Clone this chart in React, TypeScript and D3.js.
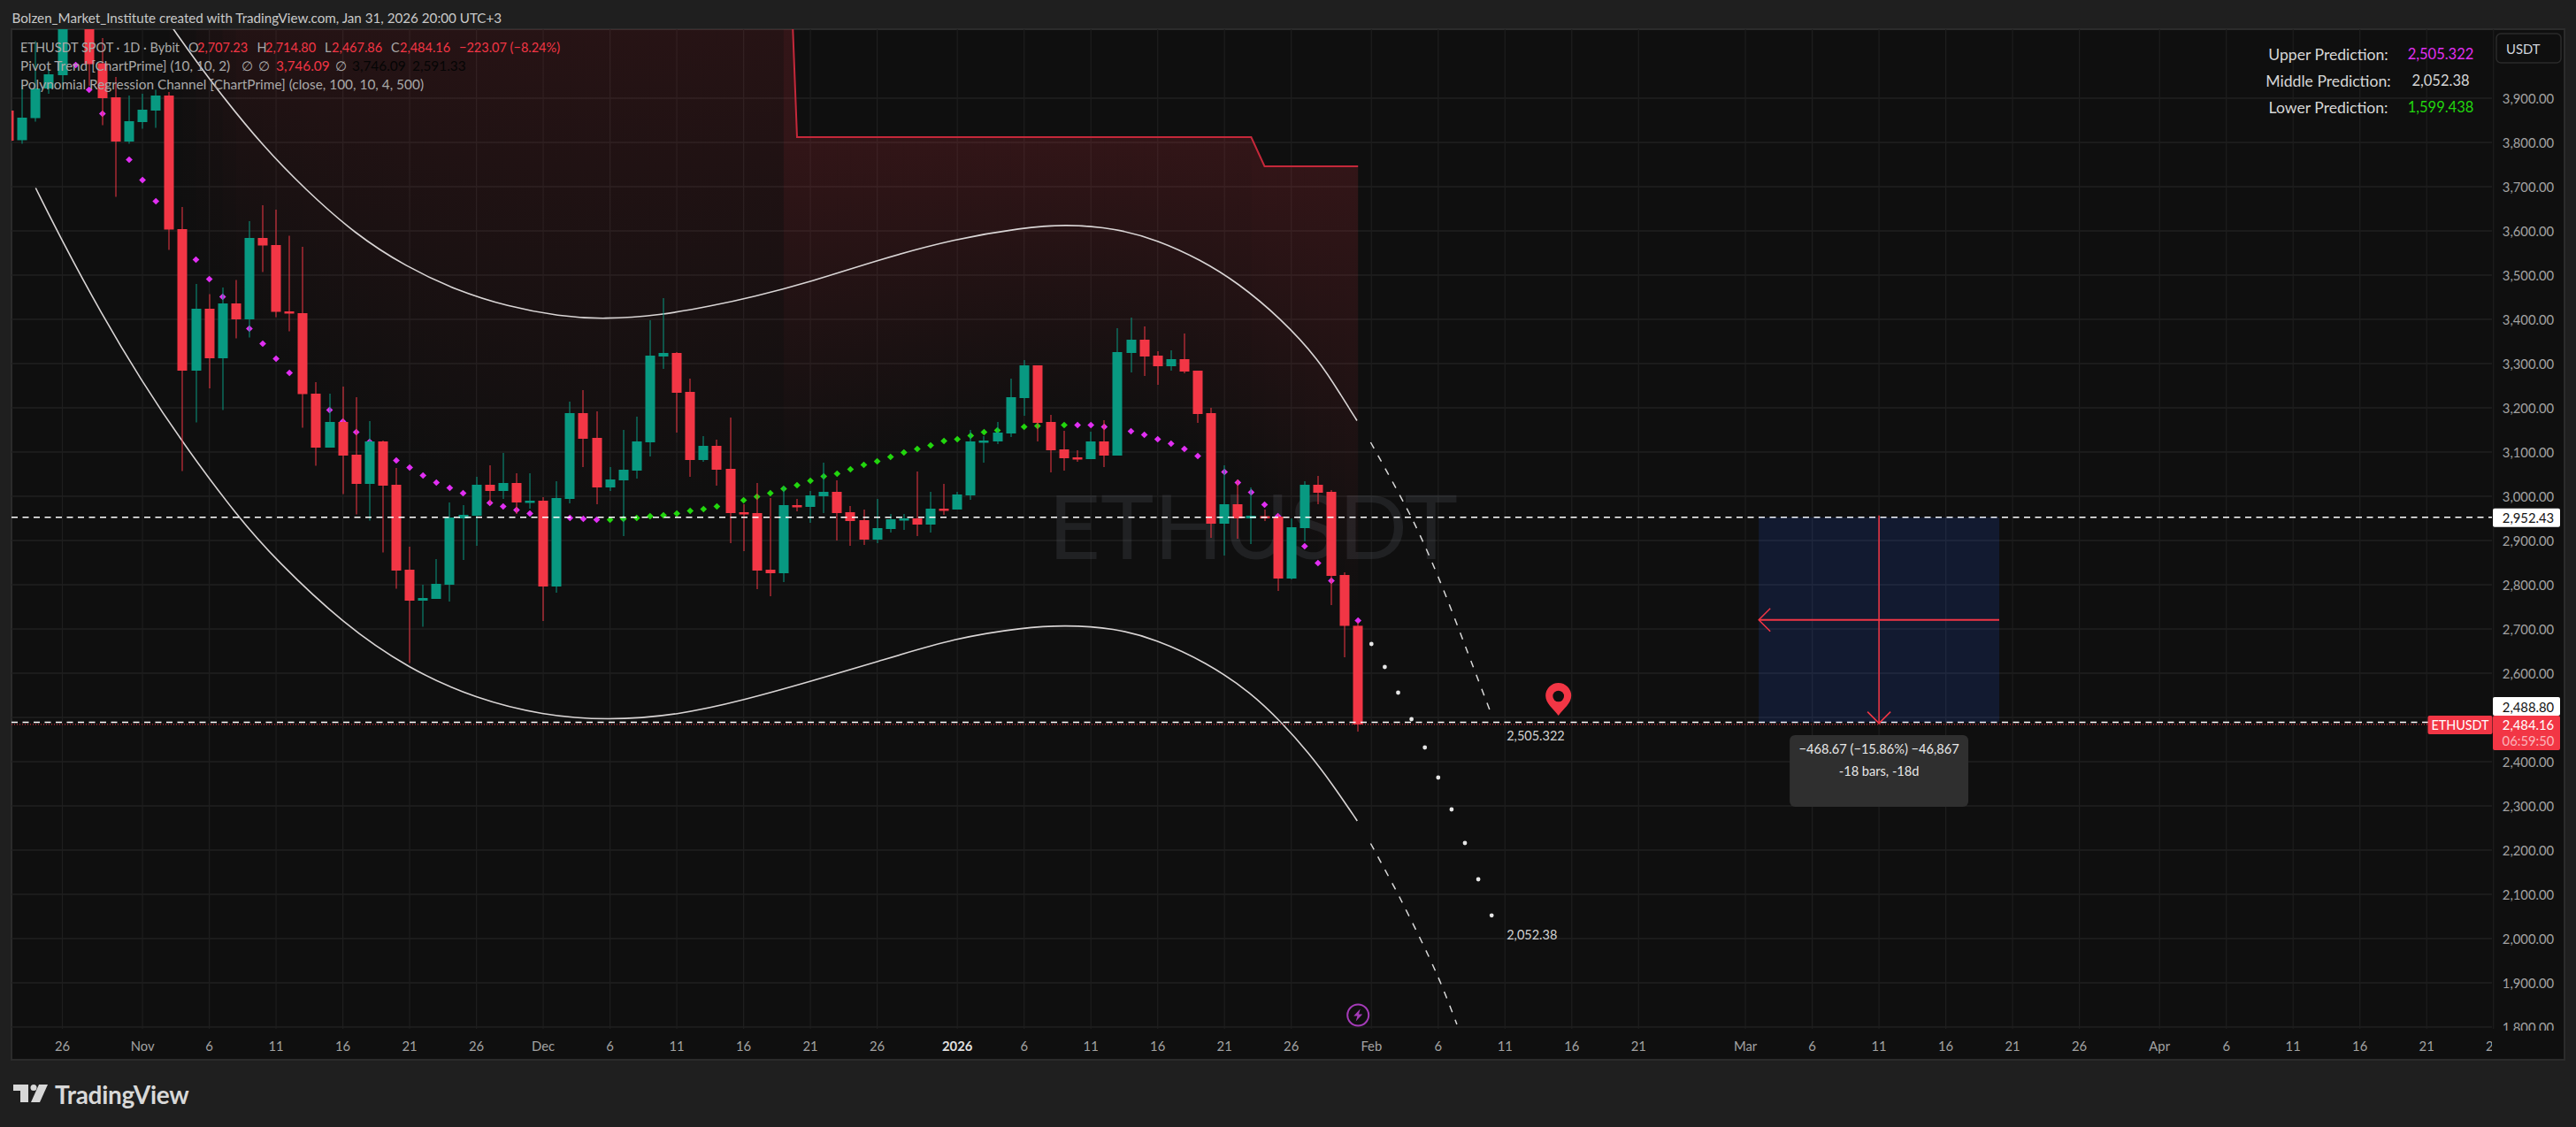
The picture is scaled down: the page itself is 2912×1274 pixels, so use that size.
import React from 'react'
import * as d3 from 'd3'

const WIDTH = 2912
const HEIGHT = 1274
const FONT = 'Lato, "Noto Sans", sans-serif'

const RED = '#f23645'
const GREEN = '#089981'
const MAGENTA = '#e02ff2'
const LIME = '#22d60e'
const GRID = '#212121'
const PANE_BG = '#0f0f0f'
const PAGE_BG = '#1f1f1f'

// Candles, one per day, first one on Oct 22
const FIRST_BAR = '2025-10-22'
const opens = [3872, 3805, 3855, 3922, 3952, 4150, 4115, 3979, 3902, 3802,
  3846, 3872, 3906, 3604, 3284, 3424, 3312, 3436, 3400, 3584, 3568, 3418, 3414, 3232, 3110, 3168, 3094, 3028, 3124, 3026, 2834, 2764, 2768, 2800, 2950, 2956, 3026, 3012, 3030, 2986,
  2990, 2796, 2994, 3188, 3132, 3020, 3036, 3058, 3122, 3316, 3324, 3236, 3082, 3114, 3062, 2964, 2962, 2834, 2826, 2980, 2976, 3000, 3010, 2964, 2946, 2902, 2926, 2948, 2950, 2936, 2972,
  2970, 3002, 3124, 3124, 3142, 3222, 3296, 3168, 3106, 3088, 3084, 3124, 3092, 3324, 3354, 3318, 3294, 3310, 3284, 3188, 2938, 2982, 2950, 2955, 2954, 2814, 2928, 3026, 3010, 2822, 2707.23]
const closes = [3804, 3856, 3922, 3954, 4090, 4120, 3977, 3900, 3802, 3848,
  3874, 3906, 3603, 3284, 3424, 3312, 3436, 3400, 3584, 3567, 3417, 3413, 3231, 3110, 3168, 3092, 3028, 3124, 3024, 2832, 2764, 2770, 2802, 2952, 2958, 3026, 3012, 3030, 2986, 2990,
  2796, 2996, 3188, 3130, 3020, 3038, 3060, 3124, 3318, 3324, 3234, 3082, 3114, 3060, 2962, 2960, 2832, 2826, 2980, 2978, 3002, 3010, 2962, 2944, 2902, 2928, 2948, 2950, 2936, 2972, 2969,
  3004, 3124, 3126, 3144, 3224, 3296, 3166, 3104, 3086, 3086, 3124, 3092, 3326, 3354, 3316, 3294, 3310, 3282, 3186, 2938, 2982, 2950, 2956, 2952, 2814, 2930, 3026, 3008, 2820, 2707, 2484.16]
const highs = [3900, 3929, 4029, 3966, 4150, 4250, 4160, 4036, 3948, 3906,
  3910, 3919, 3914, 3654, 3480, 3457, 3472, 3489, 3622, 3658, 3648, 3589, 3564, 3258, 3232, 3248, 3224, 3170, 3126, 3064, 2886, 2800, 2858, 2986, 2980, 3044, 3070, 3098, 3052, 3052,
  2998, 3034, 3214, 3240, 3192, 3066, 3150, 3180, 3398, 3448, 3326, 3266, 3136, 3128, 3178, 2982, 3030, 2996, 3022, 2994, 3012, 3076, 3036, 2978, 2970, 2994, 2960, 2960, 3056, 3010, 3028,
  3010, 3150, 3136, 3168, 3266, 3308, 3296, 3184, 3148, 3104, 3146, 3172, 3380, 3404, 3384, 3328, 3330, 3368, 3284, 3200, 3070, 3038, 3020, 2970, 2960, 2950, 3034, 3046, 3014, 2828, 2714.8]
const lows = [3800, 3797, 3847, 3910, 3919, 4100, 3928, 3839, 3677, 3797,
  3831, 3833, 3557, 3057, 3167, 3244, 3195, 3357, 3359, 3507, 3405, 3373, 3155, 3069, 3110, 3005, 2959, 2945, 2873, 2791, 2623, 2705, 2768, 2762, 2856, 2888, 2982, 2994, 2960, 2972,
  2718, 2782, 2984, 3066, 2982, 3012, 2910, 3040, 3090, 3288, 3144, 3044, 3078, 3024, 2894, 2876, 2790, 2774, 2806, 2966, 2940, 2962, 2900, 2888, 2890, 2894, 2918, 2924, 2910, 2918, 2958,
  2970, 2992, 3076, 3118, 3134, 3182, 3124, 3054, 3058, 3078, 3084, 3066, 3092, 3280, 3272, 3252, 3284, 3278, 3166, 2906, 2866, 2904, 2892, 2944, 2786, 2812, 2898, 2982, 2754, 2636, 2467.86]

// Pivot Trend dots, first one on Oct 27
const TREND_START = 5
const trendValues = [3975, 3919, 3865, 3812, 3761, 3715, 3667, 3620, 3574, 3535,
  3491, 3451, 3415, 3379, 3345, 3311, 3279, 3250, 3218, 3195, 3169, 3145, 3123, 3097, 3081, 3065, 3047, 3031, 3019, 3007, 2995, 2985, 2977, 2969, 2961,
  2955, 2952, 2951, 2949, 2947, 2947, 2949, 2951, 2955, 2957, 2961, 2967, 2971, 2977, 2984, 2991, 2999, 3007, 3017, 3025, 3035, 3045, 3051, 3061, 3071, 3079, 3089, 3099, 3107, 3115, 3125,
  3129, 3137, 3145, 3149, 3154, 3157, 3159, 3160, 3161, 3161, 3161, 3157, 3152, 3147, 3139, 3129, 3119, 3107, 3091, 3072, 3055, 3031, 3009, 2981, 2955, 2922, 2887, 2849, 2809, 2765, 2719]
const greenFrom = '2025-12-06'
const greenTo = '2026-01-09'

// Resistance level above the trend, and the opacity the zone fades in with
const zoneSteps = [
  { from: '2025-11-03', level: 4590 },
  { from: '2025-12-20', level: 3812 },
  { from: '2026-01-24', level: 3746.09 }
]
const zoneFadeIn = [0.02, 0.04, 0.07, 0.1, 0.13]
const ZONE_ALPHA = 0.155

// Regression channel, x is days after Oct 26
const BASE_DAY = '2025-10-26'
const upperDays = [6.5, 8.33, 11.68, 15.1, 18.14, 21.94, 25.73, 29.54, 33.34, 37.15, 40.56, 44.74, 48.56, 51.63, 56.07, 61.13, 66.83, 71.89, 75.07, 78.87, 82.02, 85.2, 88.04, 91.22, 94.07, 95.83, 96.92]
const upperValues = [4137, 4054, 3915, 3789, 3695, 3592, 3519, 3465, 3429, 3407, 3400, 3409, 3430, 3450, 3485, 3535, 3582, 3607, 3615, 3606, 3579, 3535, 3482, 3402, 3309, 3223, 3171]
const lowerDays = [-2, -0.1, 2.93, 5.9, 8.97, 13.19, 16.03, 21, 25.96, 30.99, 35.95, 40.76, 46.09, 51.03, 55.97, 60.9, 66.99, 71.95, 74.99, 78.78, 81.82, 85.63, 89.04, 91.33, 93.25, 95.11, 96.94]
const lowerValues = [3697, 3582, 3412, 3262, 3122, 2951, 2855, 2712, 2609, 2542, 2505, 2493, 2505, 2539, 2581, 2625, 2681, 2703, 2709, 2702, 2677, 2625, 2555, 2487, 2422, 2348, 2266]

// Predictions drawn past the last bar
const upperDashDays = [97.94, 101.03, 102.94, 105.6, 107]
const upperDashValues = [3122, 2950, 2822, 2616, 2505.322]
const lowerDashDays = [97.94, 100.2, 102.95, 104.4]
const lowerDashValues = [2215, 2088, 1916, 1806]
const middleDays = [98, 99, 100, 101, 102, 103, 104, 105, 106, 107]
const middleValues = [2666, 2614, 2556, 2496, 2432, 2364, 2292, 2216, 2134, 2052.38]

const priceTicks = d3.range(1800, 3901, 100)
const hiddenPriceLabels = [2500]
const timeTicks = [
  '2025-10-26', '2025-11-01', '2025-11-06', '2025-11-11', '2025-11-16', '2025-11-21', '2025-11-26',
  '2025-12-01', '2025-12-06', '2025-12-11', '2025-12-16', '2025-12-21', '2025-12-26',
  '2026-01-01', '2026-01-06', '2026-01-11', '2026-01-16', '2026-01-21', '2026-01-26',
  '2026-02-01', '2026-02-06', '2026-02-11', '2026-02-16', '2026-02-21',
  '2026-03-01', '2026-03-06', '2026-03-11', '2026-03-16', '2026-03-21', '2026-03-26',
  '2026-04-01', '2026-04-06', '2026-04-11', '2026-04-16', '2026-04-21', '2026-04-26'
]

const MEASURE_TOP = 2952.43
const MEASURE_BOTTOM = 2488.8
const LAST_PRICE = 2484.16

const day = (s: string) => new Date(s + 'T00:00:00Z')
const parseDay = (off: number) => new Date(day(BASE_DAY).getTime() + off * 864e5)
const fmt2 = d3.format(',.2f')

const x = d3.scaleUtc().domain([day('2025-10-26'), day('2026-02-01')]).range([70.5, 1550.3])
const y = d3.scaleLinear().domain([3900, 1800]).range([111, 1161])

const barDates = opens.map((_, i) => d3.utcDay.offset(day(FIRST_BAR), i))
const trendDates = trendValues.map((_, i) => barDates[i + TREND_START])

const tickLabel = (s: string) => {
  const d = day(s)
  if (d.getUTCDate() !== 1) return String(d.getUTCDate())
  if (d.getUTCMonth() === 0) return String(d.getUTCFullYear())
  return d3.utcFormat('%b')(d)
}

const levelAt = (d: Date) => {
  let level = NaN
  zoneSteps.forEach(s => { if (d >= day(s.from)) level = s.level })
  return level
}

const channel = d3.line<[number, number]>()
  .x(d => x(parseDay(d[0])))
  .y(d => y(d[1]))
  .curve(d3.curveBasis)
const curve = d3.line<[number, number]>()
  .x(d => x(parseDay(d[0])))
  .y(d => y(d[1]))
  .curve(d3.curveCatmullRom)

const zip = (a: number[], b: number[]) => a.map((v, i) => [v, b[i]] as [number, number])

// zone: one column between each pair of neighbouring bars
const zonePoints = trendDates
  .map((d, i) => ({ date: d, trend: trendValues[i], level: levelAt(d) }))
  .filter(p => !isNaN(p.level))
type ZonePoint = (typeof zonePoints)[number]
const zoneArea = d3.area<ZonePoint>().x(d => x(d.date)).y0(d => y(d.trend)).y1(d => y(d.level))
const resistanceLine = d3.line<ZonePoint>().x(d => x(d.date)).y(d => y(d.level))

const diamond = d3.symbol().type(d3.symbolSquare).size(30)()

const PRICE_X = 2858

function Candles() {
  return (
    <g>
      {barDates.map((d, i) => {
        const up = closes[i] >= opens[i]
        const c = up ? GREEN : RED
        const top = y(Math.max(opens[i], closes[i]))
        const bottom = y(Math.min(opens[i], closes[i]))
        const cx = Math.round(x(d))
        return (
          <g key={i}>
            <line x1={cx} x2={cx} y1={y(highs[i])} y2={y(lows[i])} stroke={c} strokeWidth={1} />
            <rect x={cx - 5.5} width={11} y={top} height={Math.max(bottom - top, 2.5)} fill={c} />
          </g>
        )
      })}
    </g>
  )
}

function Legend() {
  const t = { fontSize: 15.4, fontFamily: FONT }
  const grey = '#a9a9a9'
  const first = { fontSize: 14.5 }
  return (
    <g style={t}>
      <text x={23} y={59} fill={grey} style={first}>ETHUSDT SPOT · 1D · Bybit</text>
      {[['O', '2,707.23', 213, 223], ['H', '2,714.80', 290.5, 300], ['L', '2,467.86', 367, 375], ['C', '2,484.16', 442, 452]].map(r => (
        <g key={r[0] as string} style={first}>
          <text x={r[2]} y={59} fill={grey}>{r[0]}</text>
          <text x={r[3]} y={59} fill={RED}>{r[1]}</text>
        </g>
      ))}
      <text x={519} y={59} fill={RED} style={first}>−223.07 (−8.24%)</text>
      <text x={23} y={80} fill={grey}>Pivot Trend [ChartPrime] (10, 10, 2)</text>
      <text x={273} y={80} fill={grey}>∅</text>
      <text x={292} y={80} fill={grey}>∅</text>
      <text x={312} y={80} fill={RED}>3,746.09</text>
      <text x={379} y={80} fill={grey}>∅</text>
      <text x={398} y={80} fill="#050505">3,746.09</text>
      <text x={466} y={80} fill="#050505">2,591.33</text>
      <text x={23} y={101} fill={grey}>Polynomial Regression Channel [ChartPrime] (close, 100, 10, 4, 500)</text>
    </g>
  )
}

function PredictionTable() {
  const rows = [
    { label: 'Upper Prediction:', value: '2,505.322', color: MAGENTA, cy: 61 },
    { label: 'Middle Prediction:', value: '2,052.38', color: '#d6d6d6', cy: 91 },
    { label: 'Lower Prediction:', value: '1,599.438', color: LIME, cy: 121 }
  ]
  return (
    <g style={{ fontFamily: FONT }} textAnchor="middle" dominantBaseline="central">
      {rows.map(r => (
        <g key={r.label}>
          <text x={2632} y={r.cy} fill="#d6d6d6" style={{ fontSize: 17.6 }}>{r.label}</text>
          <text x={2759} y={r.cy} fill={r.color} style={{ fontSize: 16.5 }}>{r.value}</text>
        </g>
      ))}
    </g>
  )
}

function Measure() {
  const left = x(day('2026-03-02'))
  const right = x(day('2026-03-20'))
  const mid = x(day('2026-03-11'))
  const top = y(MEASURE_TOP)
  const bottom = y(MEASURE_BOTTOM)
  const midY = (top + bottom) / 2
  return (
    <g>
      <rect x={left} y={top} width={right - left} height={bottom - top} fill="#2962ff" fillOpacity={0.14} />
      <g stroke={RED} fill="none">
        <line x1={left} x2={right} y1={midY} y2={midY} strokeWidth={2} />
        <line x1={mid} x2={mid} y1={top - 2} y2={bottom + 2} strokeWidth={1.5} />
        <path d={`M${left + 13},${midY - 13}L${left},${midY}L${left + 13},${midY + 13}`} strokeWidth={1.5} />
        <path d={`M${mid - 13},${bottom - 12}L${mid},${bottom + 1}L${mid + 13},${bottom - 12}`} strokeWidth={1.5} />
      </g>
      <rect x={mid - 101} y={831} width={202} height={81} rx={6} fill="#2f2f2f" />
      <text x={mid} y={846} fill="#e8e8e8" textAnchor="middle" dominantBaseline="central" style={{ fontSize: 14.6, fontFamily: FONT }}>−468.67 (−15.86%) −46,867</text>
      <text x={mid} y={871} fill="#e8e8e8" textAnchor="middle" dominantBaseline="central" style={{ fontSize: 14.6, fontFamily: FONT }}>-18 bars, -18d</text>
    </g>
  )
}

function PriceTags() {
  const box = (value: number, boxTop: number) => (
    <g key={value}>
      <rect x={2818} y={boxTop} width={76} height={21} rx={2} fill="#ffffff" />
      <text x={PRICE_X} y={boxTop + 10.5} fill="#131313" textAnchor="middle" dominantBaseline="central" style={{ fontSize: 14.8, fontFamily: FONT }}>{fmt2(value)}</text>
    </g>
  )
  return (
    <g>
      {box(MEASURE_TOP, y(MEASURE_TOP) - 10)}
      {box(MEASURE_BOTTOM, 788)}
      <rect x={2744.5} y={809} width={73} height={21} rx={2} fill={RED} />
      <text x={2781} y={819.5} fill="#ffffff" textAnchor="middle" dominantBaseline="central" style={{ fontSize: 14.4, fontFamily: FONT }}>ETHUSDT</text>
      <rect x={2818} y={809} width={76} height={39} rx={2} fill={RED} />
      <text x={PRICE_X} y={819} fill="#ffffff" textAnchor="middle" dominantBaseline="central" style={{ fontSize: 14.8, fontFamily: FONT }}>{fmt2(LAST_PRICE)}</text>
      <text x={PRICE_X} y={836.5} fill="#fbb5bb" textAnchor="middle" dominantBaseline="central" style={{ fontSize: 14.8, fontFamily: FONT }}>06:59:50</text>
    </g>
  )
}

export default function App() {
  const paneW = 2817 - 13
  const paneH = 1163 - 33
  return (
    <svg width={WIDTH} height={HEIGHT} style={{ position: 'fixed', left: 0, top: 0, display: 'block' }}>
      <defs>
        <clipPath id="pane"><rect x={13} y={33} width={paneW} height={paneH} /></clipPath>
        <clipPath id="timeClip"><rect x={13} y={1163} width={paneW} height={35} /></clipPath>
        <clipPath id="priceClip"><rect x={2818} y={33} width={80} height={1132} /></clipPath>
        {zonePoints.slice(0, -1).map((p, i) => {
          const next = zonePoints[i + 1]
          const alpha = i < zoneFadeIn.length ? zoneFadeIn[i] : ZONE_ALPHA
          return (
            <linearGradient key={i} id={`zone-${i}`} gradientUnits="userSpaceOnUse" x1={0} x2={0}
              y1={y(Math.min(p.level, next.level))} y2={y(Math.min(p.trend, next.trend))}>
              <stop offset="0" stopColor={RED} stopOpacity={alpha} />
              <stop offset="1" stopColor={RED} stopOpacity={0} />
            </linearGradient>
          )
        })}
      </defs>

      <rect width={WIDTH} height={HEIGHT} fill={PAGE_BG} />
      <rect x={13} y={33} width={2886} height={1165} fill={PANE_BG} stroke="#2b2b2b" strokeWidth={2} />

      <text x={13.5} y={20} fill="#c9c9c9" dominantBaseline="central" style={{ fontSize: 15.2, fontFamily: FONT }}>
        Bolzen_Market_Institute created with TradingView.com, Jan 31, 2026 20:00 UTC+3
      </text>

      {/* grid */}
      <g>
        {priceTicks.map(p => <line key={p} x1={13} x2={2817} y1={y(p)} y2={y(p)} stroke={GRID} strokeWidth={1.5} />)}
        {timeTicks.map(t => <line key={t} x1={x(day(t))} x2={x(day(t))} y1={33} y2={1163} stroke="#1e1e1e" strokeWidth={1.2} />)}
      </g>

      <g clipPath="url(#pane)">
        <text x={1185} y={632} textLength={463} lengthAdjust="spacingAndGlyphs" fill="#787b86" fillOpacity={0.17} style={{ fontSize: 100, fontFamily: FONT, fontWeight: 400 }}>ETHUSDT</text>

        {zonePoints.slice(0, -1).map((p, i) => (
          <path key={i} d={zoneArea([p, zonePoints[i + 1]]) as string} fill={`url(#zone-${i})`} />
        ))}
        <path d={resistanceLine(zonePoints.filter(p => p.date >= day('2025-12-19'))) as string} fill="none" stroke="#c5283a" strokeWidth={2} />

        <path d={channel(zip(upperDays, upperValues)) as string} fill="none" stroke="#d9d5d5" strokeWidth={1.6} />
        <path d={channel(zip(lowerDays, lowerValues)) as string} fill="none" stroke="#d9d5d5" strokeWidth={1.6} />
        <path d={curve(zip(upperDashDays, upperDashValues)) as string} fill="none" stroke="#d9d9d9" strokeWidth={1.5} strokeDasharray="8 9" />
        <path d={curve(zip(lowerDashDays, lowerDashValues)) as string} fill="none" stroke="#d9d9d9" strokeWidth={1.5} strokeDasharray="8 9" />
        {middleDays.map((d, i) => <circle key={d} cx={x(parseDay(d))} cy={y(middleValues[i])} r={2.4} fill="#e6e6e6" />)}

        {trendDates.map((d, i) => {
          const green = d >= day(greenFrom) && d <= day(greenTo)
          return <path key={i} d={diamond as string} transform={`translate(${x(d)},${y(trendValues[i])}) rotate(45)`} fill={green ? LIME : MAGENTA} />
        })}

        <Candles />

        <line x1={13} x2={2817} y1={y(LAST_PRICE)} y2={y(LAST_PRICE)} stroke={RED} strokeWidth={1} strokeDasharray="1 2" />
        <line x1={13} x2={2817} y1={y(MEASURE_TOP)} y2={y(MEASURE_TOP)} stroke="#ffffff" strokeWidth={1.5} strokeDasharray="7 5.5" />
        <line x1={13} x2={2817} y1={y(MEASURE_BOTTOM)} y2={y(MEASURE_BOTTOM)} stroke="#ffffff" strokeWidth={1.5} strokeDasharray="7 5.5" />

        <Measure />

        <text x={x(parseDay(107)) + 17} y={y(2505.322) + 23} fill="#d2d2d2" dominantBaseline="central" style={{ fontSize: 14.5, fontFamily: FONT }}>2,505.322</text>
        <text x={x(parseDay(107)) + 17} y={y(2052.38) + 22} fill="#d2d2d2" dominantBaseline="central" style={{ fontSize: 14.5, fontFamily: FONT }}>2,052.38</text>

        {/* pin */}
        <g transform={`translate(${x(day('2026-02-15'))},809)`}>
          <path d="M0,0C-6,-8 -14.5,-14 -14.5,-22.5A14.5,14.5 0 1 1 14.5,-22.5C14.5,-14 6,-8 0,0Z" fill={RED} />
          <circle cx={0} cy={-22} r={6.3} fill={PANE_BG} />
        </g>

        {/* earnings style marker below the last bar */}
        <g transform={`translate(${x(day('2026-01-31'))},1147.5)`}>
          <circle r={12} fill="none" stroke="#a53bb8" strokeWidth={2} />
          <path d="M2.5,-7L-5,1H-0.8L-2.5,7L5,-1H0.8Z" fill="#a53bb8" />
        </g>

        <Legend />
        <PredictionTable />
      </g>

      {/* price axis */}
      <g clipPath="url(#priceClip)" style={{ fontSize: 14.8, fontFamily: FONT }} fill="#a3a3a3" textAnchor="middle" dominantBaseline="central">
        {priceTicks.filter(p => !hiddenPriceLabels.includes(p)).map(p => <text key={p} x={PRICE_X} y={y(p)}>{fmt2(p)}</text>)}
      </g>
      <rect x={2822} y={38} width={73} height={33} rx={5} fill={PANE_BG} stroke="#2b2b2b" strokeWidth={1.5} />
      <text x={2833} y={54.5} fill="#d1d4dc" dominantBaseline="central" style={{ fontSize: 14.8, fontFamily: FONT }}>USDT</text>
      <PriceTags />

      {/* time axis */}
      <g clipPath="url(#timeClip)" style={{ fontSize: 14.8, fontFamily: FONT }} textAnchor="middle" dominantBaseline="central">
        {timeTicks.map(t => {
          const label = tickLabel(t)
          return (
            <text key={t} x={x(day(t))} y={1182} fill={label === '2026' ? '#e0e0e0' : '#a3a3a3'} style={{ fontWeight: label === '2026' ? 700 : 400 }}>{label}</text>
          )
        })}
      </g>

      {/* logo */}
      <g transform="translate(15,1226)" fill="#d8d8d8">
        <path d="M0,0H17V20H8V7H0Z" />
        <circle cx={23} cy={3.5} r={3.5} />
        <path d="M20,20L29,0H39L30,20Z" />
      </g>
      <text x={62} y={1237} fill="#d8d8d8" dominantBaseline="central" style={{ fontSize: 28, fontFamily: FONT, fontWeight: 700, letterSpacing: -0.3 }}>TradingView</text>
    </svg>
  )
}
